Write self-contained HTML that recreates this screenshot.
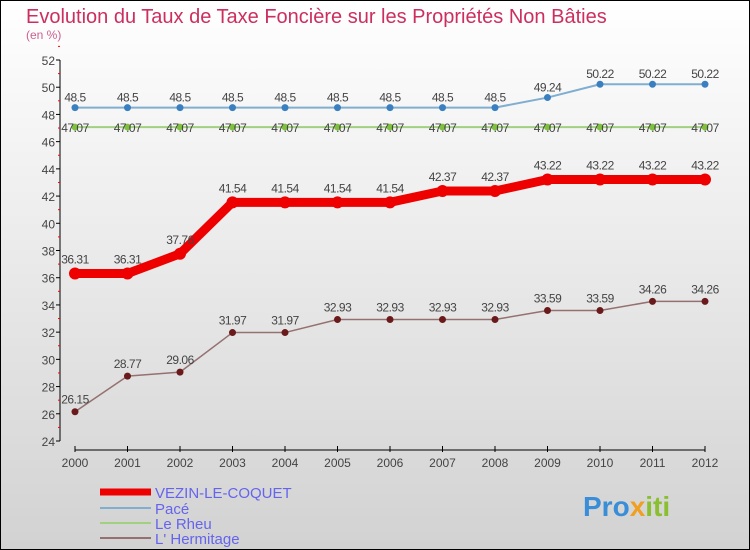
<!DOCTYPE html>
<html><head><meta charset="utf-8"><style>
body{margin:0;}
#c{width:750px;height:550px;position:relative;overflow:hidden;font-family:"Liberation Sans",sans-serif;}
</style></head><body>
<div id="c">
<svg id="s" width="750" height="550" xmlns="http://www.w3.org/2000/svg">
<defs><linearGradient id="bg" x1="0" y1="0" x2="0" y2="1"><stop offset="0" stop-color="#ffffff"/><stop offset="1" stop-color="#d2d2d2"/></linearGradient></defs>
<rect x="0.5" y="0.5" width="749" height="549" fill="url(#bg)" stroke="#000"/>
<text x="26" y="23" font-size="20" fill="#cc2f5f">Evolution du Taux de Taxe Foncière sur les Propriétés Non Bâties</text>
<text x="26" y="39" font-size="12" fill="#cc5f8f">(en %)</text>
<g id="axes"></g><g id="series"></g>
<g>
<line x1="100" y1="492" x2="151" y2="492" stroke="#ee0000" stroke-width="7"/>
<text x="155" y="498" font-size="15" fill="#6464ee">VEZIN-LE-COQUET</text>
<line x1="100" y1="508" x2="151" y2="508" stroke="#80aed0" stroke-width="2"/>
<text x="155" y="514" font-size="15" fill="#6464ee">Pacé</text>
<line x1="100" y1="523" x2="151" y2="523" stroke="#a0d080" stroke-width="2"/>
<text x="155" y="529" font-size="15" fill="#6464ee">Le Rheu</text>
<line x1="100" y1="538" x2="151" y2="538" stroke="#957070" stroke-width="2"/>
<text x="155" y="544" font-size="15" fill="#6464ee">L' Hermitage</text>
</g>
<text x="583" y="516" font-size="28" font-weight="bold" fill="#3a8ed8">Pro<tspan fill="#f0a020">x</tspan><tspan fill="#8ac030">iti</tspan></text>
</svg>
<script>
const years=[2000,2001,2002,2003,2004,2005,2006,2007,2008,2009,2010,2011,2012];
const yTicks=[24,26,28,30,32,34,36,38,40,42,44,46,48,50,52];
const vezin=[36.31,36.31,37.76,41.54,41.54,41.54,41.54,42.37,42.37,43.22,43.22,43.22,43.22];
const pace=[48.5,48.5,48.5,48.5,48.5,48.5,48.5,48.5,48.5,49.24,50.22,50.22,50.22];
const lerheu=[47.07,47.07,47.07,47.07,47.07,47.07,47.07,47.07,47.07,47.07,47.07,47.07,47.07];
const lherm=[26.15,28.77,29.06,31.97,31.97,32.93,32.93,32.93,32.93,33.59,33.59,34.26,34.26];
const NS="http://www.w3.org/2000/svg";
const X=i=>75+i*52.5, Y=v=>441-(v-24)*(381/28);
function mk(t,a,p){const e=document.createElementNS(NS,t);for(const k in a)e.setAttribute(k,a[k]);p.appendChild(e);return e;}
const ax=document.getElementById('axes');
let l=mk('line',{x1:60,y1:Y(52),x2:60,y2:Y(24),stroke:'#000'},ax);


yTicks.forEach(v=>{
 const t=mk('line',{x1:56,y1:Y(v),x2:60,y2:Y(v),stroke:'#000'},ax);
 
 
 const m=mk('line',{x1:58,y1:Y(v+1),x2:60,y2:Y(v+1),stroke:'#f00'},ax);
 
 
 const tx=mk('text',{x:55,y:Y(v)+5,'font-size':12,fill:'#444','text-anchor':'end'},ax);tx.textContent=v;
 
 
});
l=mk('line',{x1:75,y1:450,x2:705,y2:450,stroke:'#000'},ax);


years.forEach((y,i)=>{
 const t=mk('line',{x1:X(i),y1:446,x2:X(i),y2:452,stroke:'#000'},ax);
 
 
 const tx=mk('text',{x:X(i),y:467,'font-size':12,fill:'#444','text-anchor':'middle'},ax);tx.textContent=y;
 
 
});
const sg=document.getElementById('series');
function draw(d,name,col,w,mcol,r,dy){
 const g=mk('g',{},sg);
 
 
 const p=mk('polyline',{points:d.map((v,i)=>X(i)+','+Y(v)).join(' '),fill:'none',stroke:col,'stroke-width':w,'stroke-linejoin':'round'},g);
 
 
 d.forEach((v,i)=>{
  const c=mk('circle',{cx:X(i),cy:Y(v),r:r,fill:mcol},g);
  
  
  const t=mk('text',{x:X(i),y:Y(v)+dy,'font-size':12,fill:'#444','text-anchor':'middle','letter-spacing':'-0.5'},g);t.textContent=v;
  
  
 });
}
draw(lerheu,'lerheu','#a0d080',2,'#80c040',3.5,5);
draw(pace,'pace','#80aed0',2,'#3a80c0',3.5,-6);
draw(vezin,'vezin','#ee0000',9,'#ee0000',6,-10);
draw(lherm,'lhermitage','#957070',1.5,'#6a1a1a',3.5,-8);
</script>
</div>
</body></html>
